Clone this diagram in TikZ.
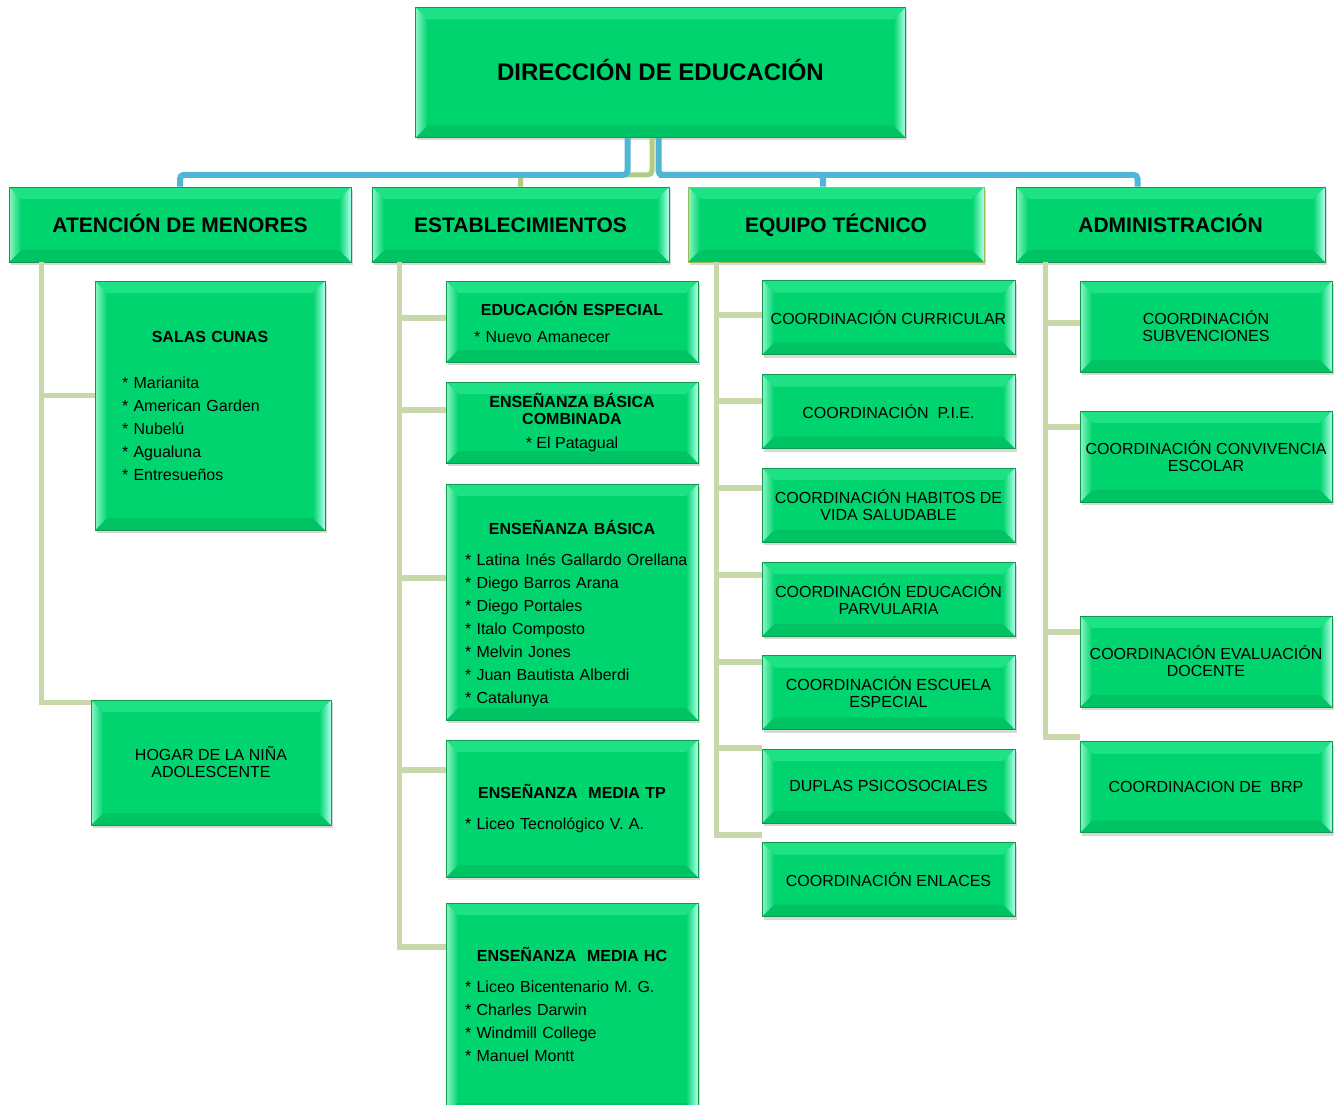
\documentclass[tikz,border=0pt]{standalone}
\usepackage{fontspec}
\setmainfont{Liberation Sans}
\usetikzlibrary{calc,shadows}

\definecolor{boxgreen}{RGB}{0,212,110}
\definecolor{boxedge}{RGB}{20,150,75}
\definecolor{bevlight}{RGB}{140,246,200}
\definecolor{bevcyan}{RGB}{175,255,235}
\definecolor{bevtop}{RGB}{30,226,134}
\definecolor{bevbot}{RGB}{0,196,100}
\definecolor{linkblue}{RGB}{80,182,212}
\definecolor{linkolive}{RGB}{178,204,130}
\definecolor{treeline}{RGB}{200,216,170}
\definecolor{etecedge}{RGB}{155,187,89}

\newlength\bevelw
\setlength\bevelw{12pt}

\tikzset{
  bevelbox/.style={draw=boxedge, line width=0.7pt, fill=boxgreen, inner sep=0pt,
    align=center, font=\fontsize{16}{17}\selectfont,
    drop shadow={shadow xshift=1.5pt, shadow yshift=-3pt, opacity=0.3},
    path picture={
      \coordinate (pnw) at (path picture bounding box.north west);
      \coordinate (pne) at (path picture bounding box.north east);
      \coordinate (psw) at (path picture bounding box.south west);
      \coordinate (pse) at (path picture bounding box.south east);
      \fill[bevtop] (pnw) -- (pne) -- ([shift={(-\bevelw,-\bevelw)}]pne) -- ([shift={(\bevelw,-\bevelw)}]pnw) -- cycle;
      \fill[bevbot] (psw) -- (pse) -- ([shift={(-\bevelw,\bevelw)}]pse) -- ([shift={(\bevelw,\bevelw)}]psw) -- cycle;
      \shade[left color=bevlight, right color=boxgreen] (pnw) -- (psw) -- ([shift={(\bevelw,\bevelw)}]psw) -- ([shift={(\bevelw,-\bevelw)}]pnw) -- cycle;
      \shade[left color=boxgreen, right color=bevcyan] (pne) -- (pse) -- ([shift={(-\bevelw,\bevelw)}]pse) -- ([shift={(-\bevelw,-\bevelw)}]pne) -- cycle;
    }},
  headbox/.style={bevelbox, minimum height=75, text height=15, text depth=0,
    font=\bfseries\fontsize{21}{23}\selectfont},
  listbox/.style={bevelbox, align=left, font=\fontsize{16}{23}\selectfont},
  branch/.style={draw=treeline, line width=5.5pt},
  toplink/.style={line width=6pt, rounded corners=4pt},
}

\begin{document}
\begin{tikzpicture}[x=1pt,y=-1pt]
  \useasboundingbox[fill=white] (0,0) rectangle (1338,1105);
  % top
  \node[bevelbox, minimum width=490, minimum height=130, text height=17, text depth=0,
        font=\bfseries\fontsize{24}{26}\selectfont] (dir) at (660.5,72.5) {DIRECCIÓN DE EDUCACIÓN};
  % headers
  \node[headbox, minimum width=342] (atencion) at (180,224.5) {ATENCIÓN DE MENORES};
  \node[headbox, minimum width=297] (estab) at (520.5,224.5) {ESTABLECIMIENTOS};
  \node[headbox, minimum width=296, draw=etecedge] (etec) at (836,224.5) {EQUIPO TÉCNICO};
  \node[headbox, minimum width=309] (admin) at (1170.5,224.5) {ADMINISTRACIÓN};
  % links from the top box
  \draw[toplink, linkolive, line width=5pt] ($(dir.south)+(-8.5,0)$) -- ++(0,37) -| (estab.north);
  \draw[toplink, linkblue] ($(dir.south)+(-33,0)$) -- ++(0,37) -| (atencion.north);
  \draw[toplink, linkblue] ($(dir.south)+(-2,0)$) -- ++(0,37) -| ($(admin.north)+(-33,0)$);
  \draw[toplink, linkblue] ($(dir.south)+(-2,37)$) -| ($(etec.north)+(-13,0)$);

  % atencion de menores
  \node[listbox, minimum width=230, minimum height=249, text width=176, inner xsep=27] (salas) at (210,405.5)
    {{\centering\bfseries SALAS CUNAS\par}\vspace{23pt}
     {*} Marianita\\{*} American Garden\\{*} Nubelú\\{*} Agualuna\\{*} Entresueños};
  \node[bevelbox, minimum width=240, minimum height=125] (hogar) at (211,762.5) {HOGAR DE LA NIÑA\\ADOLESCENTE};

  % establecimientos
  \node[listbox, minimum width=252, minimum height=81, text width=196, inner xsep=28] (especial) at (572,321.5)
    {{\centering\bfseries EDUCACIÓN ESPECIAL\par}\vspace{4pt}
     {*} Nuevo Amanecer};
  \node[bevelbox, minimum width=252, minimum height=81] (combinada) at (572,422.5)
    {\textbf{ENSEÑANZA BÁSICA}\\\textbf{COMBINADA}\\[7pt]{*} El Patagual};
  \node[listbox, minimum width=252, minimum height=236, text width=214, inner xsep=19] (basica) at (572,602)
    {{\centering\bfseries\rule{0pt}{38pt}ENSEÑANZA BÁSICA\par}\vspace{8pt}
     \mbox{{*} Latina Inés Gallardo Orellana}\\{*} Diego Barros Arana\\{*} Diego Portales\\{*} Italo Composto\\
     {*} Melvin Jones\\{*} Juan Bautista Alberdi\\{*} Catalunya};
  \node[listbox, minimum width=252, minimum height=137, text width=214, inner xsep=19] (mediatp) at (572,808.5)
    {{\centering\bfseries ENSEÑANZA\ \ MEDIA TP\par}\vspace{8pt}
     {*} Liceo Tecnológico V. A.};
  \node[listbox, minimum width=252, minimum height=212, text width=214, inner xsep=19] (mediahc) at (572,1009)
    {{\centering\bfseries ENSEÑANZA\ \ MEDIA HC\par}\vspace{8pt}
     {*} Liceo Bicentenario M. G.\\{*} Charles Darwin\\{*} Windmill College\\{*} Manuel Montt\rule[-10pt]{0pt}{10pt}};

  % equipo tecnico
  \foreach \n/\y/\t in {curr/317.5/{COORDINACIÓN CURRICULAR},
                        pie/411.5/{COORDINACIÓN\ \ P.I.E.},
                        habitos/505/{COORDINACIÓN HABITOS DE\\VIDA SALUDABLE},
                        parv/599/{COORDINACIÓN EDUCACIÓN\\PARVULARIA},
                        escuela/692.5/{COORDINACIÓN ESCUELA\\ESPECIAL},
                        duplas/786/{DUPLAS PSICOSOCIALES},
                        enlaces/879.5/{COORDINACIÓN ENLACES}}
    \node[bevelbox, minimum width=253, minimum height=74] (\n) at (888.5,\y) {\t};

  % administracion
  \foreach \n/\y/\t in {subv/326.5/{COORDINACIÓN\\SUBVENCIONES},
                        conviv/456.5/{COORDINACIÓN CONVIVENCIA\\ESCOLAR},
                        evaldoc/661.5/{COORDINACIÓN EVALUACIÓN\\DOCENTE},
                        brp/787/{COORDINACION DE\ \ BRP}}
    \node[bevelbox, minimum width=252, minimum height=91] (\n) at (1206,\y) {\t};

  % tree lines
  \foreach \n/\dy in {salas/-10, hogar/-60}
    \draw[branch] ($(atencion.south west)+(33,0)$) |- ($(\n.west)+(0,\dy)$);
  \foreach \n/\dy in {especial/-3.5, combinada/-12.5, basica/-24, mediatp/-38.5, mediahc/-62}
    \draw[branch] ($(estab.south west)+(28,0)$) |- ($(\n.west)+(0,\dy)$);
  \foreach \n/\dy in {curr/-2.5, pie/-10.5, habitos/-17, parv/-24, escuela/-30.5, duplas/-38, enlaces/-44.5}
    \draw[branch] ($(etec.south west)+(29,0)$) |- ($(\n.west)+(0,\dy)$);
  \foreach \n/\dy in {subv/-3.5, conviv/-29.5, evaldoc/-29.5, brp/-50}
    \draw[branch] ($(admin.south west)+(30,0)$) |- ($(\n.west)+(0,\dy)$);
\end{tikzpicture}
\end{document}
